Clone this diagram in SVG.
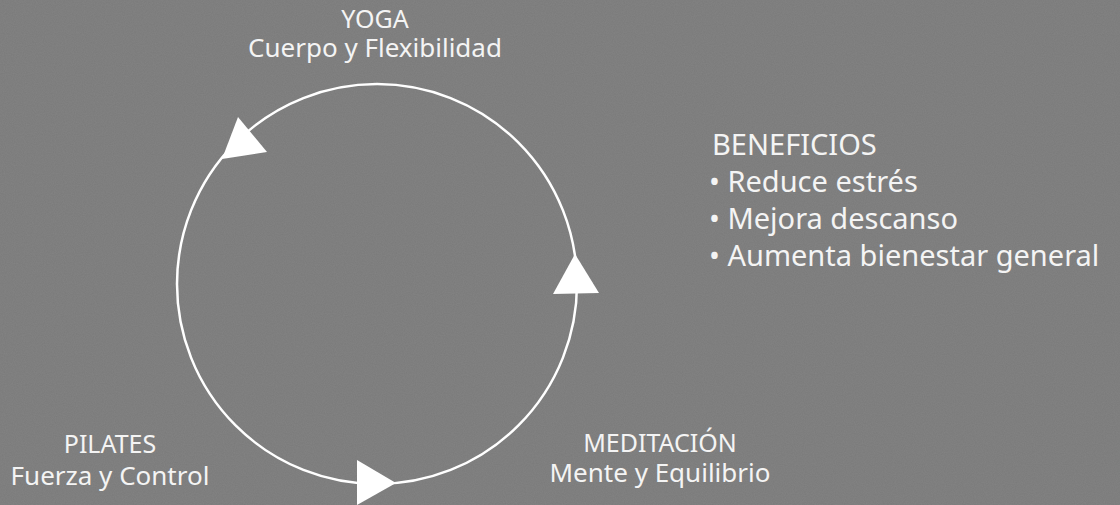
<svg xmlns="http://www.w3.org/2000/svg" width="1120" height="505" viewBox="0 0 1120 505">
  <defs>
    <filter id="grain" x="0" y="0" width="100%" height="100%">
      <feTurbulence type="fractalNoise" baseFrequency="0.9" numOctaves="2" seed="3" result="n"/>
      <feColorMatrix type="matrix" values="0 0 0 0 0.5  0 0 0 0 0.5  0 0 0 0 0.5  0 0 0 0.14 0"/>
    </filter>
  </defs>
  <style>
    .lbl { font-family: "Noto Sans", "DejaVu Sans", sans-serif; fill: #f4f4f4; }
    .title { font-size: 25px; }
    .sub { font-size: 26px; }
    .ben { font-size: 29px; }
    .ring { fill: none; stroke: #ffffff; stroke-width: 2.5; }
    .head { fill: #ffffff; }
  </style>
  <rect width="1120" height="505" fill="#7a7a7a"/>
  <rect width="1120" height="505" filter="url(#grain)"/>
  <g id="connectors">
    <circle class="ring" cx="377" cy="284" r="200"/>
    <polygon class="head" points="222,159 238,117 267,152"/>
    <polygon class="head" points="575,254 553,294 599,293"/>
    <polygon class="head" points="396,483 357,460 357,505"/>
  </g>
  <g id="yoga">
    <text class="lbl title" x="375" y="28" text-anchor="middle">YOGA</text>
    <text class="lbl sub" x="375" y="57" text-anchor="middle">Cuerpo y Flexibilidad</text>
  </g>
  <g id="pilates">
    <text class="lbl title" x="110" y="453" text-anchor="middle">PILATES</text>
    <text class="lbl sub" x="110" y="485" text-anchor="middle">Fuerza y Control</text>
  </g>
  <g id="meditacion">
    <text class="lbl title" x="660" y="452" text-anchor="middle">MEDITACIÓN</text>
    <text class="lbl sub" x="660" y="482" text-anchor="middle">Mente y Equilibrio</text>
  </g>
  <g id="beneficios">
    <text class="lbl ben" x="712" y="155">BENEFICIOS</text>
    <text class="lbl ben" x="709" y="192">• Reduce estrés</text>
    <text class="lbl ben" x="709" y="229">• Mejora descanso</text>
    <text class="lbl ben" x="709" y="266">• Aumenta bienestar general</text>
  </g>
</svg>
